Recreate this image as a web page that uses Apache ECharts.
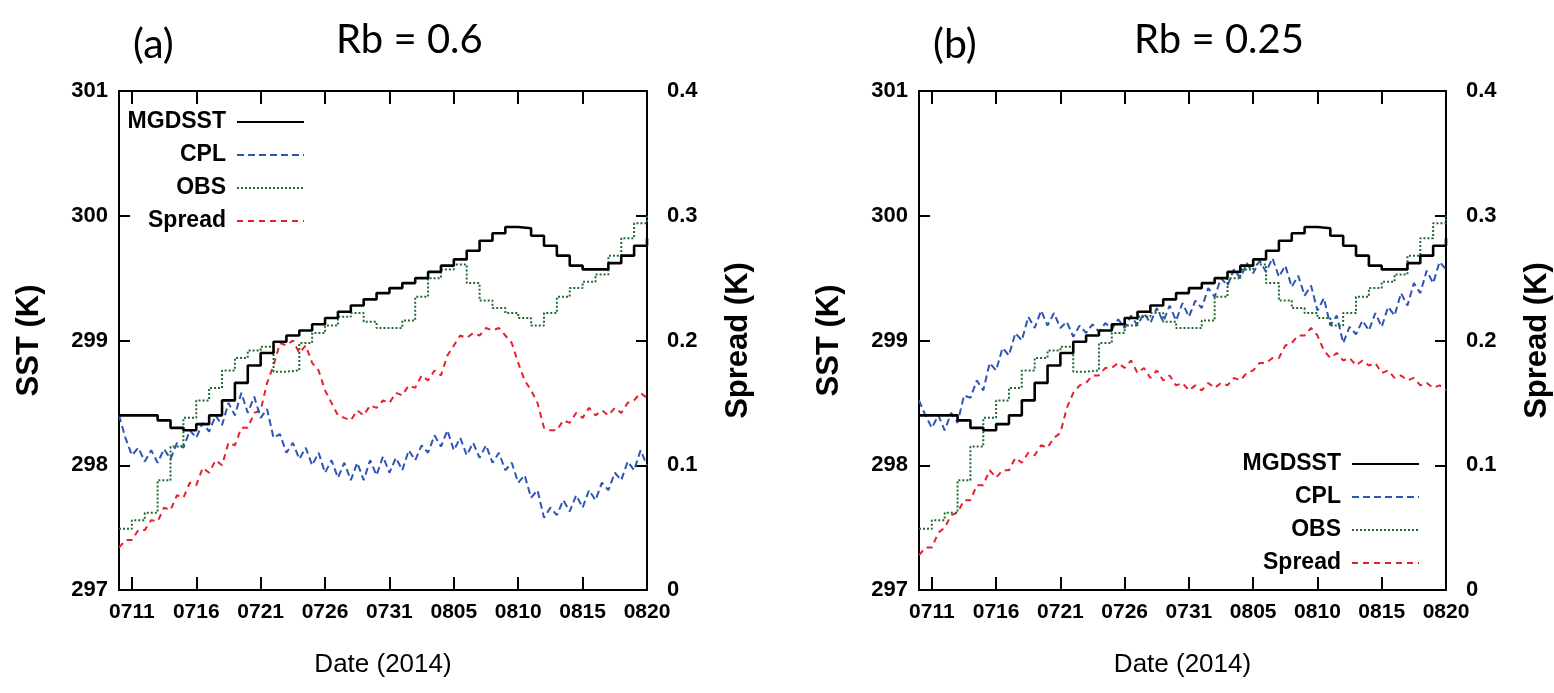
<!DOCTYPE html>
<html>
<head>
<meta charset="utf-8">
<script src="https://cdn.jsdelivr.net/npm/echarts@6/dist/echarts.min.js"></script>
<style>
html,body{margin:0;padding:0;background:#fff;}
#chart{width:1554px;height:693px;}
</style>
</head>
<body>
<div id="chart"></div>
<script>
// ---- Data (day index 0 = Jul 10, 2014; 41 = Aug 20) ----
const tickDays = [1, 6, 11, 16, 21, 26, 31, 36, 41];
const tickLabels = ['0711', '0716', '0721', '0726', '0731', '0805', '0810', '0815', '0820'];

// Daily values (d = 0..41)
const mgdsst = [298.40,298.40,298.40,298.36,298.30,298.28,298.33,298.40,298.52,298.66,
  298.80,298.90,298.99,299.04,299.08,299.13,299.18,299.23,299.28,299.33,
  299.38,299.42,299.46,299.50,299.55,299.60,299.65,299.72,299.80,299.86,
  299.91,299.90,299.84,299.76,299.68,299.60,299.57,299.57,299.62,299.68,
  299.76,299.82];
const obs = [297.49,297.56,297.62,297.88,298.15,298.38,298.52,298.62,298.76,298.86,
  298.92,298.95,298.75,298.76,298.98,299.06,299.12,299.19,299.22,299.15,
  299.10,299.10,299.16,299.35,299.50,299.57,299.61,299.46,299.32,299.26,
  299.22,299.18,299.12,299.22,299.35,299.42,299.47,299.53,299.68,299.82,
  299.94,300.00];

// Half-day values (t = 0, 0.5, ..., 41)
const cplA = [298.40,298.22, 298.08,298.14, 298.03,298.12, 298.02,298.13, 298.05,298.18,
  298.14,298.28, 298.22,298.34, 298.27,298.40, 298.32,298.50, 298.40,298.58,
  298.42,298.55, 298.38,298.45, 298.22,298.25, 298.10,298.18, 298.05,298.14,
  298.00,298.10, 297.94,298.04, 297.90,298.02, 297.88,298.02, 297.88,298.04,
  297.92,298.07, 297.94,298.06, 297.96,298.12, 298.04,298.16, 298.10,298.24,
  298.15,298.28, 298.12,298.22, 298.08,298.18, 298.06,298.16, 298.02,298.10,
  297.96,298.02, 297.86,297.92, 297.74,297.80, 297.58,297.66, 297.60,297.72,
  297.63,297.76, 297.66,297.80, 297.72,297.86, 297.80,297.94, 297.88,298.03,
  297.96,298.12, 298.00];
const spreadA = [0.034,0.040, 0.040,0.048, 0.048,0.056, 0.055,0.066, 0.064,0.076,
  0.074,0.086, 0.084,0.098, 0.094,0.104, 0.100,0.118, 0.116,0.130,
  0.130,0.142, 0.144,0.166, 0.180,0.198, 0.196,0.200, 0.190,0.196,
  0.182,0.176, 0.160,0.150, 0.140,0.138, 0.136,0.144, 0.140,0.148,
  0.146,0.152, 0.150,0.158, 0.156,0.164, 0.162,0.172, 0.168,0.176,
  0.172,0.188, 0.196,0.204, 0.202,0.206, 0.204,0.210, 0.208,0.210,
  0.204,0.198, 0.182,0.168, 0.160,0.150, 0.130,0.128, 0.128,0.136,
  0.134,0.142, 0.138,0.146, 0.140,0.144, 0.140,0.146, 0.142,0.150,
  0.152,0.158, 0.154];
const cplB = [298.52,298.40, 298.30,298.40, 298.28,298.42, 298.34,298.56, 298.54,298.68,
  298.60,298.82, 298.76,298.94, 298.88,299.06, 299.00,299.19, 299.10,299.24,
  299.12,299.22, 299.10,299.15, 299.03,299.12, 299.06,299.13, 299.07,299.14,
  299.09,299.17, 299.10,299.20, 299.12,299.22, 299.14,299.26, 299.15,299.28,
  299.16,299.30, 299.19,299.32, 299.26,299.42, 299.35,299.50, 299.44,299.57,
  299.50,299.62, 299.54,299.64, 299.55,299.66, 299.51,299.60, 299.43,299.52,
  299.36,299.44, 299.24,299.34, 299.12,299.20, 298.98,299.11, 299.05,299.16,
  299.08,299.22, 299.11,299.27, 299.20,299.38, 299.28,299.46, 299.38,299.56,
  299.46,299.63, 299.57];
const spreadB = [0.028,0.034, 0.034,0.046, 0.050,0.060, 0.062,0.072, 0.072,0.084,
  0.084,0.096, 0.090,0.096, 0.096,0.106, 0.102,0.110, 0.108,0.116,
  0.114,0.122, 0.126,0.146, 0.158,0.164, 0.166,0.172, 0.172,0.178,
  0.178,0.182, 0.178,0.184, 0.174,0.178, 0.170,0.176, 0.168,0.172,
  0.164,0.166, 0.160,0.164, 0.160,0.166, 0.162,0.166, 0.164,0.170,
  0.168,0.174, 0.176,0.182, 0.182,0.186, 0.186,0.196, 0.198,0.204,
  0.204,0.210, 0.204,0.192, 0.186,0.190, 0.184,0.186, 0.180,0.184,
  0.180,0.182, 0.174,0.176, 0.170,0.172, 0.168,0.170, 0.164,0.166,
  0.162,0.164, 0.160];

// ---- Styles ----
const SANS = "'Liberation Sans',Arial,sans-serif";
const TITLE = "Lato,'Open Sans',sans-serif";
const C_BLK = '#000000', C_CPL = '#2f55b4', C_OBS = '#1f6b2e', C_SPR = '#e8202e';

const daily = arr => arr.map((v, i) => [i, v]);
const halfDay = arr => arr.map((v, i) => [i / 2, v]);
const labelFor = v => { const k = tickDays.indexOf(Math.round(v)); return k >= 0 ? tickLabels[k] : ''; };

function xAxes(gridIndex) {
  const base = {
    type: 'value', gridIndex: gridIndex, min: 0, max: 41,
    splitLine: { show: false },
    axisLine: { show: true, onZero: false, lineStyle: { color: '#000', width: 2 } },
  };
  return [
    Object.assign({}, base, {
      position: 'bottom',
      axisTick: { show: true, inside: true, length: 13, customValues: tickDays, lineStyle: { color: '#000', width: 2 } },
      axisLabel: { show: true, customValues: tickDays, formatter: labelFor, margin: 12,
        fontFamily: SANS, fontSize: 21, fontWeight: 'bold', color: '#000' },
      name: 'Date (2014)', nameLocation: 'middle', nameGap: 62,
      nameTextStyle: { fontFamily: SANS, fontSize: 26, color: '#000' }
    }),
    Object.assign({}, base, {
      position: 'top',
      axisTick: { show: true, inside: true, length: 13, customValues: tickDays, lineStyle: { color: '#000', width: 2 } },
      axisLabel: { show: false }
    })
  ];
}
function yAxes(gridIndex) {
  return [
    {
      type: 'value', gridIndex: gridIndex, position: 'left', min: 297, max: 301, interval: 1,
      splitLine: { show: false },
      axisLine: { show: true, onZero: false, lineStyle: { color: '#000', width: 2 } },
      axisTick: { show: true, inside: true, length: 11, lineStyle: { color: '#000', width: 2 } },
      axisLabel: { margin: 11, fontFamily: SANS, fontSize: 22, fontWeight: 'bold', color: '#000' },
      name: 'SST (K)', nameLocation: 'middle', nameGap: 74, nameRotate: 90,
      nameTextStyle: { fontFamily: SANS, fontSize: 31, fontWeight: 'bold', color: '#000' }
    },
    {
      type: 'value', gridIndex: gridIndex, position: 'right', min: 0, max: 0.4, interval: 0.1,
      splitLine: { show: false },
      axisLine: { show: true, onZero: false, lineStyle: { color: '#000', width: 2 } },
      axisTick: { show: true, inside: true, length: 11, lineStyle: { color: '#000', width: 2 } },
      axisLabel: { margin: 20, fontFamily: SANS, fontSize: 22, fontWeight: 'bold', color: '#000' },
      name: 'Spread (K)', nameLocation: 'middle', nameGap: 76, nameRotate: 90,
      nameTextStyle: { fontFamily: SANS, fontSize: 31, fontWeight: 'bold', color: '#000' }
    }
  ];
}
function panelSeries(xi, yi, cpl, spread) {
  return [
    { name: 'MGDSST', type: 'line', xAxisIndex: xi, yAxisIndex: yi, data: daily(mgdsst), step: 'end',
      symbol: 'none', lineStyle: { color: C_BLK, width: 2.6, type: 'solid' }, itemStyle: { color: C_BLK }, z: 5 },
    { name: 'CPL', type: 'line', xAxisIndex: xi, yAxisIndex: yi, data: halfDay(cpl),
      symbol: 'none', lineStyle: { color: C_CPL, width: 2, type: [7, 4] }, itemStyle: { color: C_CPL }, z: 3 },
    { name: 'OBS', type: 'line', xAxisIndex: xi, yAxisIndex: yi, data: daily(obs), step: 'end',
      symbol: 'none', lineStyle: { color: C_OBS, width: 2, type: [2, 2] }, itemStyle: { color: C_OBS }, z: 4 },
    { name: 'Spread', type: 'line', xAxisIndex: xi, yAxisIndex: yi + 1, data: halfDay(spread),
      symbol: 'none', lineStyle: { color: C_SPR, width: 2, type: [6, 5] }, itemStyle: { color: C_SPR }, z: 2 }
  ];
}
const legendBase = {
  orient: 'vertical', align: 'right', itemWidth: 67, itemHeight: 14, itemGap: 9,
  data: ['MGDSST', 'CPL', 'OBS', 'Spread'], selectedMode: false,
  itemStyle: { opacity: 0 },
  textStyle: { fontFamily: SANS, fontSize: 23, fontWeight: 'bold', color: '#000', lineHeight: 24, padding: [0, 6, 0, 0] }
};

const option = {
  backgroundColor: '#fff',
  animation: false,
  title: [
    { text: '(a)', left: 128, top: 19, textStyle: { fontFamily: TITLE, fontSize: 41, fontWeight: 'normal', color: '#000' } },
    { text: 'Rb = 0.6', left: 331, top: 15, textStyle: { fontFamily: TITLE, fontSize: 40, fontWeight: 'normal', color: '#000' } },
    { text: '(b)', left: 928, top: 19, textStyle: { fontFamily: TITLE, fontSize: 41, fontWeight: 'normal', color: '#000' } },
    { text: 'Rb = 0.25', left: 1129, top: 15, textStyle: { fontFamily: TITLE, fontSize: 40, fontWeight: 'normal', color: '#000' } }
  ],
  legend: [
    Object.assign({}, legendBase, { right: 1554 - 305 - 5, top: 105 }),
    Object.assign({}, legendBase, { right: 1554 - 1420 - 5, top: 447 })
  ],
  grid: [
    { left: 119, top: 91, width: 528, height: 499 },
    { left: 919, top: 91, width: 527, height: 499 }
  ],
  xAxis: [].concat(xAxes(0), xAxes(1)),
  yAxis: [].concat(yAxes(0), yAxes(1)),
  series: [].concat(panelSeries(0, 0, cplA, spreadA), panelSeries(2, 2, cplB, spreadB))
};

const chart = echarts.init(document.getElementById('chart'), null, { renderer: 'canvas' });
chart.setOption(option);
</script>
</body>
</html>
